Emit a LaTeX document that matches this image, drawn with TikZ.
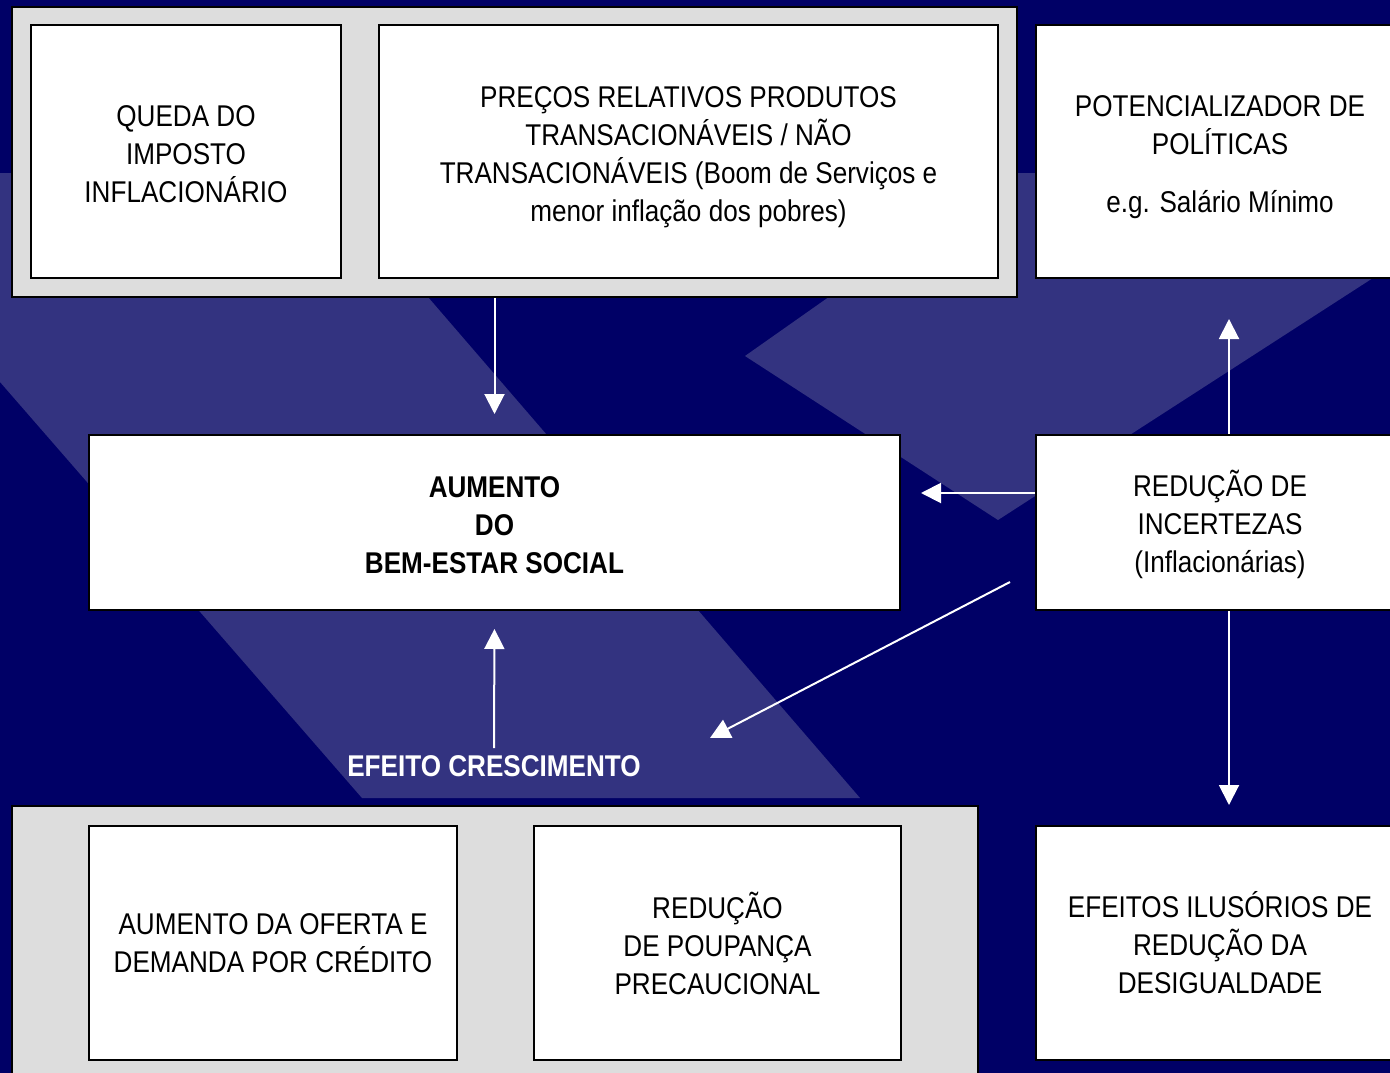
\documentclass[tikz,border=0pt]{standalone}
\usepackage{fontspec}
\setmainfont[FakeStretch=0.87]{Liberation Sans}
\usetikzlibrary{arrows.meta,calc}
\definecolor{navy}{HTML}{000066}
\definecolor{band}{HTML}{333380}
\definecolor{panel}{HTML}{DDDDDD}
\begin{document}
\begin{tikzpicture}[x=1pt,y=-1pt,
  box/.style={draw=black, line width=2pt, fill=white, align=center, inner sep=0pt,
    font=\fontsize{30}{38}\selectfont},
  panelbox/.style={draw=black, line width=2pt, fill=panel, inner sep=0pt},
  lbl/.style={text=white, font=\fontsize{30}{38}\selectfont\bfseries, inner sep=0pt},
  arr/.style={draw=white, line width=2pt, -{Triangle[length=20pt,width=20pt]}}]
\useasboundingbox (0,0) rectangle (1390,1073);
\begin{scope}
\clip (0,0) rectangle (1390,1073);
\fill[navy] (0,0) rectangle (1390,1073);
\fill[band] (0,173) -- (321,173) -- (860,798) -- (362,798) -- (0,382) -- cycle;
\fill[band] (745,356) -- (1005,173) -- (1390,173) -- (1390,267) -- (998,520) -- cycle;

\node[panelbox, minimum width=1005pt, minimum height=290pt] (topgroup) at (514.5,152) {};
\node[box, minimum width=310pt, minimum height=253pt] (queda) at (186,151.5)
  {\rule{0pt}{26pt}QUEDA DO\\IMPOSTO\\INFLACIONÁRIO};
\node[box, minimum width=619pt, minimum height=253pt] (precos) at (688.5,151.5)
  {\rule{0pt}{32pt}PREÇOS RELATIVOS PRODUTOS\\TRANSACIONÁVEIS / NÃO\\TRANSACIONÁVEIS (Boom de Serviços e\\menor inflação dos pobres)};
\node[box, minimum width=368pt, minimum height=253pt] (potencial) at (1220,151.5)
  {\rule{0pt}{32pt}POTENCIALIZADOR DE\\POLÍTICAS\\[20pt]e.g. Salário Mínimo};

\node[box, minimum width=811pt, minimum height=175pt, font=\fontsize{30}{38}\selectfont\bfseries] (aumento) at (494.5,522.5)
  {\rule{0pt}{26pt}AUMENTO\\DO\\BEM-ESTAR SOCIAL};
\node[box, minimum width=368pt, minimum height=175pt] (reducao) at (1220,522.5)
  {\rule{0pt}{31pt}REDUÇÃO DE\\INCERTEZAS\\(Inflacionárias)};

\node[lbl] (efeito) at (494,766) {EFEITO CRESCIMENTO};

\node[panelbox, minimum width=966pt, minimum height=284pt] (botgroup) at (495,948) {};
\node[box, minimum width=368pt, minimum height=234pt] (credito) at (273,943)
  {AUMENTO DA OFERTA E\\DEMANDA POR CRÉDITO};
\node[box, minimum width=367pt, minimum height=234pt] (poupanca) at (717.5,943)
  {REDUÇÃO\\DE POUPANÇA\\PRECAUCIONAL};
\node[box, minimum width=368pt, minimum height=234pt] (efeitos) at (1220,943)
  {EFEITOS ILUSÓRIOS DE\\REDUÇÃO DA\\DESIGUALDADE};

\coordinate (d1) at (1010,582);
\coordinate (d2) at (710,738);

\draw[arr, shorten >=20pt] (topgroup.south -| aumento.north) -- (aumento.north);
\draw[arr, shorten <=7pt, shorten >=18pt] (efeito.north) -- (aumento.south);
\draw[arr, shorten >=20pt] ([yshift=29.5pt]reducao.west) -- ([yshift=29.5pt]reducao.west -| aumento.east);
\draw[arr] (d1) -- (d2);
\draw[arr, shorten >=40pt] ([xshift=9pt]reducao.north) -- ([xshift=9pt]potencial.south);
\draw[arr, shorten >=20pt] ([xshift=9pt]reducao.south) -- ([xshift=9pt]efeitos.north);
\end{scope}
\end{tikzpicture}
\end{document}
